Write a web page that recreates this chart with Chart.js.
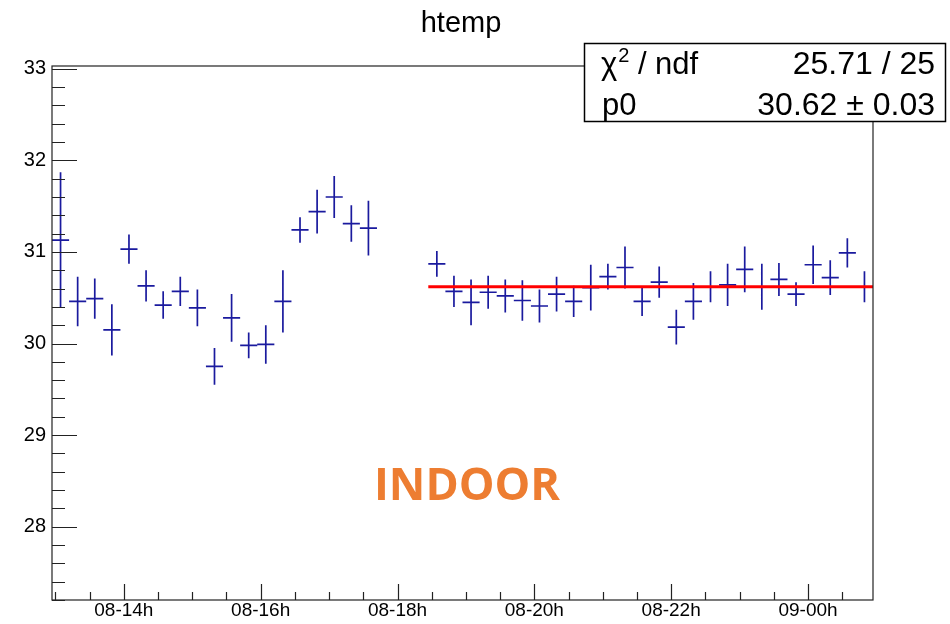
<!DOCTYPE html>
<html>
<head>
<meta charset="utf-8">
<title>htemp</title>
<script src="https://cdn.jsdelivr.net/npm/chart.js@4.4.1/dist/chart.umd.min.js"></script>
<style>
  body { margin: 0; background: #fff; }
  canvas { display: block; }
</style>
</head>
<body>
<canvas id="tempChart" width="950" height="624"></canvas>
<script>
// bin centres in hours since day 08 00h (15 min bins)
const hours = [
    13.075, 13.325, 13.575, 13.825, 14.075, 14.325, 14.575, 14.825, 15.075, 15.325,
    15.575, 15.825, 16.075, 16.325, 16.575, 16.825, 17.075, 17.325, 17.575,
    18.575, 18.825, 19.075, 19.325, 19.575, 19.825, 20.075, 20.325, 20.575, 20.825,
    21.075, 21.325, 21.575, 21.825, 22.075, 22.325, 22.575, 22.825, 23.075, 23.325,
    23.575, 23.825, 24.075, 24.325, 24.575, 24.825
];
const temps = [
    31.13, 30.46, 30.49, 30.15, 31.03, 30.63, 30.42, 30.57, 30.39, 29.75,
    30.28, 29.98, 29.99, 30.46, 31.24, 31.44, 31.60, 31.31, 31.26,
    30.87, 30.57, 30.45, 30.56, 30.52, 30.47, 30.41, 30.54, 30.46, 30.61,
    30.73, 30.83, 30.46, 30.67, 30.18, 30.46, 30.62, 30.64, 30.81, 30.62,
    30.70, 30.54, 30.86, 30.72, 30.99, 30.62
];
const errors = [
    0.74, 0.27, 0.22, 0.28, 0.16, 0.17, 0.15, 0.16, 0.20, 0.20,
    0.26, 0.14, 0.21, 0.34, 0.14, 0.24, 0.23, 0.20, 0.30,
    0.14, 0.17, 0.25, 0.18, 0.18, 0.22, 0.18, 0.19, 0.17, 0.25,
    0.14, 0.23, 0.16, 0.17, 0.19, 0.20, 0.17, 0.23, 0.25, 0.25,
    0.18, 0.13, 0.21, 0.19, 0.16, 0.17
];
const binWidth = 0.25;

// constant fit (pol0) over the second part of the run
const fitRange = [18.45, 24.95];
const fitP0 = 30.62;
const fitLabels = ['\u03C7', '2', ' / ndf', '25.71 / 25', 'p0', '30.62 \u00B1 0.03'];

const xTicks = [14, 16, 18, 20, 22, 24];
const yTicks = [28, 29, 30, 31, 32, 33];
const xRange = [12.95, 24.95];
const yRange = [27.2, 33.03];

const errColor = '#1a1a9e';

function hourLabel(v) {
    const day = 8 + Math.floor(v / 24);
    const h = v % 24;
    return String(day).padStart(2, '0') + '-' + String(h).padStart(2, '0') + 'h';
}

// crosses: vertical = error, horizontal = bin width
const errorBars = {
    id: 'errorBars',
    beforeDatasetsDraw(chart) {
        const { ctx, scales: { x, y } } = chart;
        ctx.save();
        ctx.strokeStyle = errColor;
        ctx.lineWidth = 1.7;
        ctx.beginPath();
        hours.forEach((h, i) => {
            const px = x.getPixelForValue(h);
            const py = y.getPixelForValue(temps[i]);
            ctx.moveTo(x.getPixelForValue(h - binWidth / 2), py);
            ctx.lineTo(x.getPixelForValue(h + binWidth / 2), py);
            ctx.moveTo(px, y.getPixelForValue(temps[i] + errors[i]));
            ctx.lineTo(px, y.getPixelForValue(temps[i] - errors[i]));
        });
        ctx.stroke();
        ctx.restore();
    }
};

// ROOT style frame, inward ticks, title, stat box and note
const rootFrame = {
    id: 'rootFrame',
    afterDraw(chart) {
        const { ctx, chartArea: a, scales: { x, y } } = chart;
        ctx.save();
        ctx.strokeStyle = '#222';
        ctx.lineWidth = 1.2;
        ctx.strokeRect(a.left, a.top, a.right - a.left, a.bottom - a.top);

        ctx.beginPath();
        for (let v = 27.2; v <= 33.01; v += 0.2) {
            const py = Math.round(y.getPixelForValue(v)) + 0.5;
            const major = Math.abs(v - Math.round(v)) < 0.01;
            ctx.moveTo(a.left, py);
            ctx.lineTo(a.left + (major ? 25 : 13), py);
        }
        for (let v = 13; v <= 24.9; v += 0.5) {
            const px = Math.round(x.getPixelForValue(v)) + 0.5;
            const major = xTicks.includes(v);
            ctx.moveTo(px, a.bottom);
            ctx.lineTo(px, a.bottom - (major ? 16 : 8));
        }
        ctx.stroke();

        // title
        ctx.fillStyle = '#000';
        ctx.font = '29px "Liberation Sans", Arial, sans-serif';
        ctx.textAlign = 'center';
        ctx.textBaseline = 'alphabetic';
        ctx.fillText('htemp', 461, 32);

        // fit statistics box
        ctx.fillStyle = '#fff';
        ctx.fillRect(584, 43, 362, 79);
        ctx.strokeStyle = '#000';
        ctx.lineWidth = 1.5;
        ctx.strokeRect(584.5, 43.5, 361, 78);
        ctx.fillStyle = '#000';
        ctx.textAlign = 'left';
        ctx.font = '31px "Liberation Sans", Arial, sans-serif';
        ctx.fillText(fitLabels[0], 601, 74);
        const chiW = ctx.measureText(fitLabels[0]).width;
        ctx.font = '20px "Liberation Sans", Arial, sans-serif';
        ctx.fillText(fitLabels[1], 601 + chiW + 1, 62);
        ctx.font = '31px "Liberation Sans", Arial, sans-serif';
        ctx.fillText(fitLabels[2], 601 + chiW + 12, 74);
        ctx.fillText(fitLabels[4], 602, 115);
        ctx.textAlign = 'right';
        ctx.font = '32px "Liberation Sans", Arial, sans-serif';
        ctx.fillText(fitLabels[3], 935, 74);
        ctx.fillText(fitLabels[5], 935, 115);

        // note
        ctx.fillStyle = '#ed7d31';
        ctx.textAlign = 'center';
        ctx.font = 'bold 45px "Open Sans", sans-serif';
        ctx.fillText('INDOOR', 467, 500);
        ctx.restore();
    }
};

const tickFont = { family: '"Liberation Sans", Arial, sans-serif', size: 19 };

new Chart(document.getElementById('tempChart'), {
    type: 'scatter',
    data: {
        datasets: [
            {
                label: 'htemp',
                data: hours.map((h, i) => ({ x: h, y: temps[i] })),
                pointRadius: 0,
                showLine: false
            },
            {
                type: 'line',
                label: 'pol0',
                data: [{ x: fitRange[0], y: fitP0 }, { x: fitRange[1], y: fitP0 }],
                borderColor: '#ff0000',
                borderWidth: 3,
                pointRadius: 0,
                fill: false
            }
        ]
    },
    options: {
        responsive: false,
        animation: false,
        layout: { padding: { top: 66, right: 77, bottom: 0, left: 0 } },
        plugins: {
            legend: { display: false },
            title: { display: false },
            tooltip: { enabled: false }
        },
        scales: {
            x: {
                type: 'linear',
                min: xRange[0],
                max: xRange[1],
                grid: { display: false, drawTicks: false },
                border: { display: false },
                afterBuildTicks: s => { s.ticks = xTicks.map(v => ({ value: v })); },
                afterFit: s => { s.height = 24; },
                ticks: {
                    font: tickFont,
                    color: '#000',
                    padding: -1,
                    maxRotation: 0,
                    autoSkip: false,
                    callback: v => hourLabel(v)
                }
            },
            y: {
                type: 'linear',
                min: yRange[0],
                max: yRange[1],
                grid: { display: false, drawTicks: false },
                border: { display: false },
                afterBuildTicks: s => { s.ticks = yTicks.map(v => ({ value: v })); },
                afterFit: s => { s.width = 52; },
                ticks: {
                    font: { family: tickFont.family, size: 20 },
                    color: '#000',
                    padding: 6
                }
            }
        }
    },
    plugins: [errorBars, rootFrame]
});
</script>
</body>
</html>
